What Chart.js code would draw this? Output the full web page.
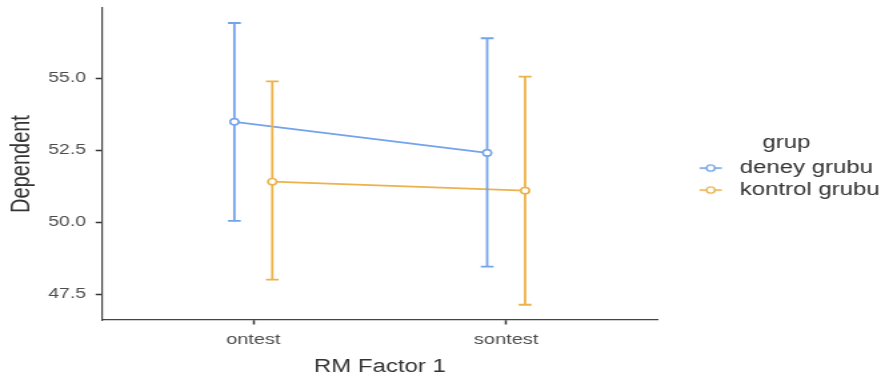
<!DOCTYPE html>
<html>
<head>
<meta charset="utf-8">
<script src="https://cdn.jsdelivr.net/npm/chart.js@4.4.1/dist/chart.umd.min.js"></script>
<style>
  html, body { margin: 0; padding: 0; background: #ffffff; overflow: hidden; }
  #wrap { width: 661px; height: 381px; transform: scaleX(1.3328); transform-origin: 0 0; }
  canvas { display: block; }
</style>
</head>
<body>
<div id="wrap"><canvas id="chart" width="661" height="381"></canvas></div>
<script>
// Repeated-measures means with error bars, by group
const categories = ['ontest', 'sontest'];
const groupNames = ['deney grubu', 'kontrol grubu'];
const deneyMean = [53.48, 52.40];
const deneyLower = [50.04, 48.45];
const deneyUpper = [56.91, 56.38];
const kontrolMean = [51.40, 51.09];
const kontrolLower = [48.00, 47.13];
const kontrolUpper = [54.88, 55.05];
const yTicks = [47.5, 50.0, 52.5, 55.0];

const BLUE = '#73A3EC';
const ORANGE = '#ECB24C';
const DODGE = 0.075;     // horizontal offset of each group around its category
const CAP_HALF = 4.8;    // half width of error bar caps, px

Chart.defaults.font.family = '"Liberation Sans", Arial, sans-serif';

function points(means, shift) {
  return means.map((m, i) => ({ x: i + 1 + shift, y: m }));
}

// Legend key: a short line with an open circle
function legendGlyph(color) {
  const c = document.createElement('canvas');
  c.width = 32; c.height = 14;
  const g = c.getContext('2d');
  const cx = 19.3, cy = 7;
  g.strokeStyle = color;
  g.lineWidth = 1.6;
  g.beginPath(); g.moveTo(cx - 8.3, cy); g.lineTo(cx + 8.3, cy); g.stroke();
  g.beginPath(); g.arc(cx, cy, 3.1, 0, Math.PI * 2);
  g.fillStyle = '#ffffff'; g.fill();
  g.lineWidth = 1.4; g.stroke();
  return c;
}

// Error bars drawn above the lines, then the points redrawn on top
const errorBars = {
  id: 'errorBars',
  afterDatasetsDraw(chart) {
    const { ctx, scales: { x, y } } = chart;
    chart.data.datasets.forEach((ds) => {
      ctx.save();
      ctx.strokeStyle = ds.borderColor;
      ctx.lineWidth = 1.8;
      ds.data.forEach((pt, i) => {
        const px = x.getPixelForValue(pt.x);
        const top = y.getPixelForValue(ds.upper[i]);
        const bot = y.getPixelForValue(ds.lower[i]);
        ctx.beginPath();
        ctx.moveTo(px, top); ctx.lineTo(px, bot);
        ctx.moveTo(px - CAP_HALF, top); ctx.lineTo(px + CAP_HALF, top);
        ctx.moveTo(px - CAP_HALF, bot); ctx.lineTo(px + CAP_HALF, bot);
        ctx.stroke();
      });
      ctx.restore();
    });
    chart.data.datasets.forEach((ds, di) => {
      chart.getDatasetMeta(di).data.forEach((el) => el.draw(ctx, chart.chartArea));
    });
  }
};

const glyphs = [legendGlyph(BLUE), legendGlyph(ORANGE)];

new Chart(document.getElementById('chart'), {
  type: 'line',
  data: {
    datasets: [
      {
        label: groupNames[0],
        data: points(deneyMean, -DODGE),
        lower: deneyLower, upper: deneyUpper,
        borderColor: BLUE, backgroundColor: '#ffffff',
        pointBackgroundColor: '#ffffff', pointBorderColor: BLUE,
        borderWidth: 1.7, pointRadius: 3.1, pointBorderWidth: 1.4, tension: 0
      },
      {
        label: groupNames[1],
        data: points(kontrolMean, DODGE),
        lower: kontrolLower, upper: kontrolUpper,
        borderColor: ORANGE, backgroundColor: '#ffffff',
        pointBackgroundColor: '#ffffff', pointBorderColor: ORANGE,
        borderWidth: 1.7, pointRadius: 3.1, pointBorderWidth: 1.4, tension: 0
      }
    ]
  },
  options: {
    responsive: false,
    animation: false,
    events: [],
    layout: { padding: { left: 0, top: 8, right: -9, bottom: 0 } },
    scales: {
      x: {
        type: 'linear',
        min: 0.4, max: 2.6,
        afterBuildTicks: (s) => { s.ticks = categories.map((c, i) => ({ value: i + 1 })); },
        afterFit: (s) => { s.height = 61; s.paddingLeft = 0; s.paddingRight = 0; },
        ticks: {
          callback: (v, i) => categories[i],
          color: '#4D4D4D', font: { size: 15 }, padding: 6, maxRotation: 0
        },
        grid: { drawOnChartArea: false, drawTicks: true, tickLength: 4.5, tickColor: '#333333', tickWidth: 1.5 },
        border: { display: true, color: '#444444', width: 1.2 },
        title: { display: true, text: 'RM Factor 1', color: '#333333', font: { size: 18 }, padding: { top: 0, bottom: 2.7 } }
      },
      y: {
        type: 'linear',
        position: 'left',
        min: 46.6, max: 57.43,
        afterBuildTicks: (s) => { s.ticks = yTicks.map((v) => ({ value: v })); },
        afterFit: (s) => { s.width = 76.3; s.paddingTop = 0; s.paddingBottom = 0; },
        ticks: {
          callback: (v) => v.toFixed(1),
          color: '#4D4D4D', font: { size: 14.5 }, padding: 7.3
        },
        grid: { drawOnChartArea: false, drawTicks: true, tickLength: 4.5, tickColor: '#333333', tickWidth: 1.5 },
        border: { display: true, color: '#444444', width: 1.2 },
        title: { display: true, text: 'Dependent', color: '#333333', font: { size: 20 }, padding: { top: 4.5, bottom: 0 } }
      },
      gap: {
        axis: 'y',
        type: 'linear',
        position: 'right',
        afterFit: (s) => { s.width = 16.4; s.paddingTop = 0; s.paddingBottom = 0; },
        ticks: { display: false },
        grid: { display: false, drawTicks: false },
        border: { display: false }
      }
    },
    plugins: {
      tooltip: { enabled: false },
      legend: {
        position: 'right',
        align: 'start',
        maxWidth: 400,
        title: { display: true, text: 'grup', color: '#333333', font: { size: 18 }, padding: { top: 126, bottom: -0.5 } },
        labels: {
          color: '#333333',
          font: { size: 18 },
          padding: 4,
          usePointStyle: true,
          pointStyleWidth: 32,
          generateLabels: (chart) =>
            Chart.defaults.plugins.legend.labels.generateLabels(chart).map((item, i) =>
              Object.assign(item, { pointStyle: glyphs[i] }))
        }
      }
    }
  },
  plugins: [errorBars]
});
</script>
</body>
</html>
